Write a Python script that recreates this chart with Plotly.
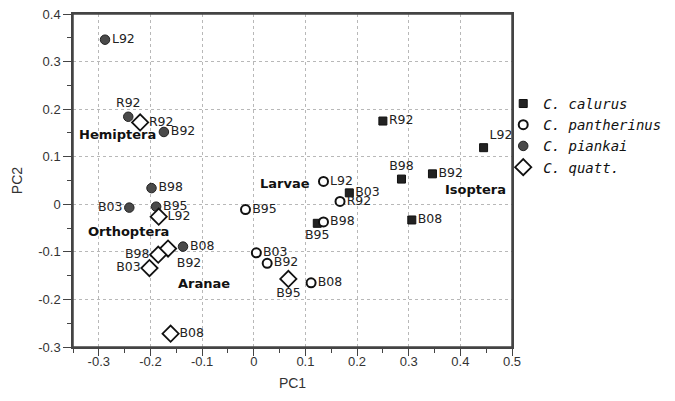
import plotly.graph_objects as go

# ---------------- data ----------------
site_labels = ["L92", "R92", "B92", "B95", "B98", "B03", "B08"]

calurus_x = [0.445, 0.250, 0.346, 0.123, 0.286, 0.185, 0.306]
calurus_y = [0.119, 0.175, 0.064, -0.040, 0.053, 0.024, -0.033]

pantherinus_x = [0.135, 0.167, 0.026, -0.016, 0.135, 0.005, 0.111]
pantherinus_y = [0.048, 0.006, -0.124, -0.011, -0.037, -0.102, -0.165]

piankai_x = [-0.288, -0.243, -0.174, -0.189, -0.198, -0.241, -0.137]
piankai_y = [0.346, 0.184, 0.152, -0.005, 0.034, -0.007, -0.089]

quatt_x = [-0.184, -0.220, -0.166, 0.067, -0.185, -0.202, -0.161]
quatt_y = [-0.026, 0.172, -0.093, -0.157, -0.106, -0.134, -0.272]

species_names = ["C. calurus", "C. pantherinus", "C. piankai", "C. quatt."]

prey_groups = ["Hemiptera", "Orthoptera", "Aranae", "Larvae", "Isoptera"]
prey_x = [-0.264, -0.242, -0.097, 0.060, 0.429]
prey_y = [0.146, -0.057, -0.167, 0.043, 0.032]

x_tick_vals = [-0.3, -0.2, -0.1, 0, 0.1, 0.2, 0.3, 0.4, 0.5]
x_tick_text = ["-0.3", "-0.2", "-0.1", "0", "0.1", "0.2", "0.3", "0.4", "0.5"]
y_tick_vals = [-0.3, -0.2, -0.1, 0, 0.1, 0.2, 0.3, 0.4]
y_tick_text = ["-0.3", "-0.2", "-0.1", "0", "0.1", "0.2", "0.3", "0.4"]

# ---------------- styling ----------------
# label positions, order follows site_labels
pos_calurus = ["top right", "middle right", "middle right", "bottom center",
               "top center", "middle right", "middle right"]
pos_pantherinus = ["middle right"] * 7
pos_piankai = ["middle right", "top center", "middle right", "middle right",
               "middle right", "middle left", "middle right"]
pos_quatt = ["middle right", "middle right", "bottom right", "bottom center",
             "middle left", "middle left", "middle right"]

label_font = dict(family="DejaVu Sans", size=12.5, color="#222")

fig = go.Figure()

series = [
    (calurus_x, calurus_y, pos_calurus,
     dict(symbol="square", size=8, color="#222", line=dict(color="#111", width=1))),
    (pantherinus_x, pantherinus_y, pos_pantherinus,
     dict(symbol="circle", size=9, color="white", line=dict(color="#111", width=2))),
    (piankai_x, piankai_y, pos_piankai,
     dict(symbol="circle", size=9.5, color="#4a4a4a", line=dict(color="#222", width=1))),
    (quatt_x, quatt_y, pos_quatt,
     dict(symbol="diamond", size=12.5, color="white", line=dict(color="#111", width=1.8))),
]

for name, (xs, ys, pos, mk) in zip(species_names, series):
    fig.add_trace(go.Scatter(
        x=xs, y=ys, mode="markers+text", name=name,
        text=site_labels, textposition=pos, textfont=label_font,
        marker=mk, cliponaxis=False,
    ))

for g, gx, gy in zip(prey_groups, prey_x, prey_y):
    fig.add_annotation(x=gx, y=gy, text=g, showarrow=False,
                       font=dict(family="DejaVu Sans", size=13, color="#111",
                                 weight="bold"))

axis_common = dict(
    showline=True, mirror=True, linecolor="#444", linewidth=1.5,
    showgrid=True, gridcolor="#b8b8b8", griddash="dot", gridwidth=1,
    zeroline=False, ticks="outside", tickcolor="#444", automargin=False,
    tickfont=dict(family="Liberation Sans", size=13, color="#333"),
    title_font=dict(family="Liberation Sans", size=14, color="#333"),
)

fig.update_xaxes(
    range=[-0.35, 0.5], tickmode="array", tickvals=x_tick_vals, ticktext=x_tick_text,
    ticklen=7, ticklabelstandoff=-5,
    minor=dict(tick0=-0.35, dtick=0.05, ticks="outside", ticklen=4,
               tickcolor="#444", showgrid=False),
    title_text="PC1", title_standoff=10, **axis_common)
fig.update_yaxes(
    range=[-0.3, 0.4], tickmode="array", tickvals=y_tick_vals, ticktext=y_tick_text,
    ticklen=8, minor=dict(tick0=-0.3, dtick=0.05, ticks="outside", ticklen=4,
                          tickcolor="#444", showgrid=False),
    title_text="PC2", title_standoff=12, **axis_common)

# plot frame
fig.add_shape(type="rect", xref="paper", yref="paper", x0=0, x1=1, y0=0, y1=1,
              line=dict(color="#444", width=1.5), layer="above")

fig.update_layout(
    width=675, height=401,
    margin=dict(l=73, r=163, t=14, b=54, autoexpand=False),
    plot_bgcolor="white", paper_bgcolor="white",
    showlegend=True,
    legend=dict(x=0.98, xanchor="left", y=0.778, yanchor="top",
                bgcolor="rgba(0,0,0,0)",
                font=dict(family="DejaVu Sans Mono", size=14, color="#111",
                          style="italic"),
                itemsizing="trace", tracegroupgap=0),
)

# remove the default 8px page margin so the figure sits at the window's corner
fig.write_html("out.html", config={"displayModeBar": False},
               post_script="document.body.style.margin='0px';")
